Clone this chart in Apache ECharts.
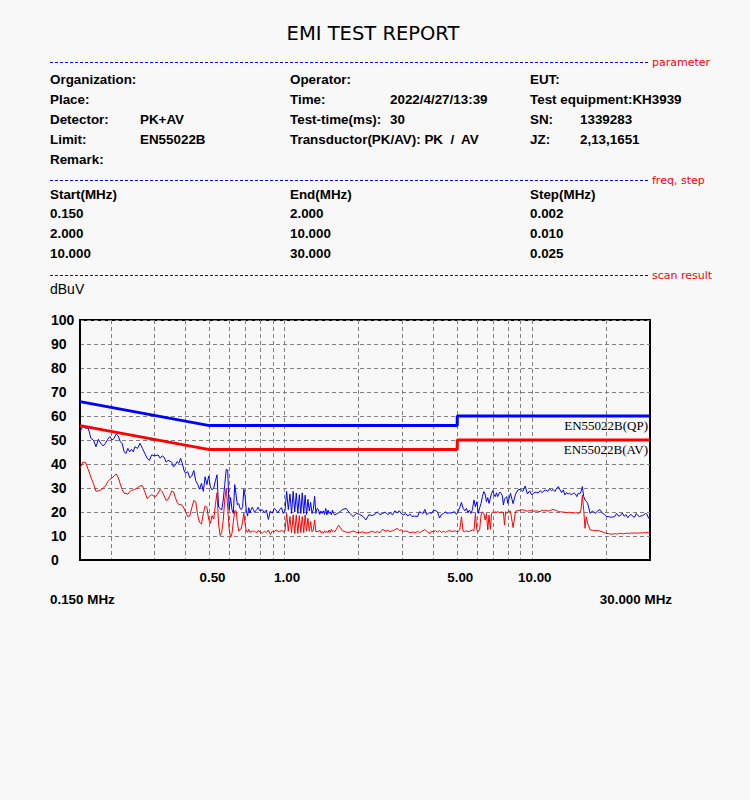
<!DOCTYPE html>
<html><head><meta charset="utf-8">
<script src="https://cdn.jsdelivr.net/npm/echarts@6/dist/echarts.min.js"></script>
<style>html,body{margin:0;padding:0;background:#f8f8f8}#c{width:750px;height:800px}</style>
</head><body><div id="c"></div>
<script>
// ---------- data ----------
const freqMHz = [
0.150,0.154,0.158,0.162,0.166,0.170,0.174,0.178,0.182,0.186,0.190,0.194,0.198,0.202,0.206,0.210,0.214,0.218,0.222,0.226,0.230,0.234,0.238,0.242,0.246,
0.250,0.256,0.262,0.268,0.274,0.280,0.286,0.292,0.298,0.304,0.310,0.316,0.322,0.328,0.334,0.340,0.346,0.352,0.358,0.364,0.370,0.376,0.382,0.388,0.394,
0.400,0.408,0.416,0.424,0.432,0.440,0.448,0.456,0.464,0.472,0.480,0.488,0.496,0.504,0.512,0.520,0.528,0.536,0.544,0.552,0.560,0.568,0.576,0.584,0.592,0.600,0.608,0.616,0.624,0.632,0.640,0.648,0.656,0.664,0.672,0.680,0.688,0.696,0.704,0.712,0.720,0.728,0.736,0.744,0.752,0.760,0.768,0.776,0.784,0.792,
0.800,0.816,0.832,0.848,0.864,0.880,0.896,0.912,0.928,0.944,0.960,0.976,0.992,1.008,1.024,1.040,1.056,1.072,1.088,1.104,1.120,1.136,1.152,1.168,1.184,1.200,1.216,1.232,1.248,1.264,1.280,1.296,1.312,1.328,1.344,1.360,1.376,1.392,1.408,1.424,1.440,1.456,1.472,1.488,1.504,1.520,1.536,1.552,1.568,1.584,
1.60,1.66,1.72,1.78,1.84,1.90,1.96,2.02,2.08,2.14,2.20,2.26,2.32,2.38,2.44,2.50,2.56,2.62,2.68,2.74,2.80,2.86,2.92,2.98,3.04,3.10,3.16,3.22,3.28,3.34,3.40,3.46,3.52,3.58,3.64,3.70,3.76,3.82,3.88,3.94,
4.00,4.08,4.16,4.24,4.32,4.40,4.48,4.56,4.64,4.72,4.80,4.88,4.96,5.04,5.12,5.20,5.28,5.36,5.44,5.52,5.60,5.68,5.76,5.84,5.92,6.00,6.08,6.16,6.24,6.32,6.40,6.48,6.56,6.64,6.72,6.80,6.88,6.96,7.04,7.12,7.20,7.28,7.36,7.44,7.52,7.60,7.68,7.76,7.84,7.92,
8.0,8.2,8.4,8.6,8.8,9.0,9.2,9.4,9.6,9.8,10.0,10.2,10.4,10.6,10.8,11.0,11.2,11.4,11.6,11.8,12.0,12.2,12.4,12.6,12.8,13.0,13.2,13.4,13.6,13.8,14.0,14.2,14.4,14.6,14.8,15.0,15.2,15.4,15.6,15.8,
16.0,16.2,16.4,16.6,16.8,17.2,17.6,18.0,18.4,18.8,19.2,19.6,20.0,20.4,20.8,21.2,21.6,22.0,22.4,22.8,23.2,23.6,24.0,24.4,24.8,25.2,25.6,26.0,26.4,26.8,27.2,27.6,28.0,28.4,28.8,29.2,29.6,30.0
];
const peakDbuv = [
53.5,55.6,54.9,55.0,50.7,50.0,47.2,50.3,48.6,47.5,48.6,50.3,51.4,50.0,50.7,52.5,51.7,49.3,48.6,45.1,44.4,46.5,45.1,46.1,45.1,
47.2,46.5,48.6,46.5,44.4,42.4,41.5,43.8,43.5,43.5,43.8,42.4,43.4,42.8,40.8,41.5,41.2,40.7,38.8,39.6,41.0,40.3,42.4,40.3,37.5,
36.1,36.8,34.2,35.0,37.3,33.0,31.5,29.5,32.0,28.6,34.7,31.4,35.0,30.4,29.2,30.0,33.0,35.5,22.0,21.5,20.8,25.0,31.4,37.8,37.5,21.0,26.0,21.0,19.4,31.4,27.0,23.0,23.5,21.5,21.0,22.2,29.5,26.5,20.5,18.3,21.8,19.6,21.0,22.0,21.0,19.8,20.5,21.0,22.0,21.2,
20.4,21.0,19.8,20.8,16.9,20.4,19.5,21.5,20.8,19.6,21.0,21.8,19.4,20.4,28.6,21.0,27.5,19.4,28.6,20.0,27.9,19.4,27.2,19.4,28.0,19.4,27.0,19.0,25.3,20.4,24.0,19.4,21.0,26.5,19.4,21.5,21.0,19.0,20.4,19.4,20.5,19.0,21.5,18.8,20.8,19.4,20.1,18.8,20.8,19.4,
18.8,19.7,21.0,21.5,19.5,18.1,19.4,19.0,18.2,16.7,18.9,18.5,19.0,20.0,18.9,19.4,20.0,18.9,19.7,18.8,20.5,19.7,20.5,19.2,18.8,19.4,18.3,19.2,18.1,18.3,18.2,18.1,20.1,19.7,19.4,21.1,18.9,19.5,19.7,19.4,
20.6,20.6,20.1,17.5,19.0,19.4,20.1,19.4,19.7,19.5,19.9,20.1,19.0,20.1,22.0,24.0,21.5,20.5,21.5,19.8,20.8,19.4,21.0,25.0,22.2,24.3,19.4,21.8,23.6,26.5,28.5,27.5,24.3,26.0,23.6,25.7,27.8,28.9,27.1,26.4,28.0,26.4,27.5,28.3,27.8,26.8,22.9,25.5,25.8,26.4,
23.6,27.8,23.5,27.5,29.2,29.5,28.6,30.8,27.5,28.8,27.1,28.0,28.3,27.9,28.9,28.1,28.8,29.2,28.6,29.7,28.9,29.4,28.5,29.9,30.6,29.2,28.1,29.2,27.1,28.1,27.5,27.8,27.3,27.5,28.0,27.5,26.4,27.8,27.5,28.5,
30.6,26.4,25.0,24.5,23.6,19.4,20.5,19.4,20.3,21.0,19.7,19.0,18.1,18.1,17.8,17.9,18.1,19.4,18.3,18.5,19.6,18.2,18.9,17.6,18.6,19.0,18.1,17.8,19.4,18.5,18.1,18.4,18.5,18.9,19.4,19.0,17.4,18.1
];
const avgDbuv = [
38.2,40.8,40.6,37.7,34.5,31.8,28.6,28.8,29.2,30.0,30.8,32.6,33.6,34.1,35.1,35.8,34.4,31.7,29.3,27.8,27.8,27.4,28.5,29.0,29.2,
29.5,30.1,30.9,31.0,28.4,25.6,26.5,27.2,26.6,26.5,27.9,29.4,28.5,26.7,24.8,25.3,26.9,28.7,28.4,26.0,24.0,23.1,23.1,22.8,21.6,
20.0,18.2,18.3,21.8,24.8,24.2,18.5,15.6,15.0,19.4,22.5,22.0,17.0,15.2,18.5,17.0,23.0,28.0,15.0,10.2,11.5,16.5,25.0,29.9,22.0,13.0,9.5,11.0,16.0,20.5,20.5,15.5,12.0,12.8,13.0,16.0,19.5,15.0,12.0,11.6,12.8,11.5,11.8,12.2,11.7,12.0,11.6,11.4,12.2,12.0,
11.7,11.1,12.0,11.4,12.5,10.6,12.0,11.7,12.5,12.0,11.7,12.5,11.7,12.0,19.4,12.0,18.1,11.4,18.8,11.0,18.8,11.1,18.5,11.4,18.1,11.4,18.8,12.0,17.4,12.0,16.0,11.7,12.5,16.7,11.7,12.0,11.7,12.5,11.4,11.8,11.1,12.2,11.4,12.0,11.4,12.5,11.5,12.8,11.8,12.2,
11.6,14.5,12.2,11.6,11.5,12.1,11.5,11.5,11.7,11.2,11.5,12.0,11.5,11.8,11.4,12.8,12.0,12.4,11.8,12.2,12.6,13.2,12.3,12.6,11.9,12.1,11.8,11.4,11.6,11.6,11.4,12.0,11.4,11.8,12.2,12.7,12.0,11.5,11.1,12.0,
11.8,12.2,11.6,12.3,11.5,12.0,11.5,12.0,12.2,12.1,11.8,12.2,11.9,11.8,12.5,18.0,12.0,11.8,12.2,11.8,12.0,12.2,12.5,12.2,19.4,12.5,11.8,12.8,18.8,20.1,19.4,16.7,19.4,12.5,18.8,12.8,19.4,20.1,19.7,20.1,19.9,20.1,19.9,19.7,20.1,19.9,19.9,14.6,20.1,19.4,
20.1,20.4,13.5,20.3,20.6,20.8,20.9,20.6,20.3,20.6,20.5,20.3,20.5,20.3,20.1,20.8,20.4,20.8,20.3,20.6,20.8,21.1,20.8,20.6,20.1,20.1,20.0,20.0,19.9,19.7,19.8,19.9,19.7,19.7,19.7,19.6,19.7,19.4,19.6,21.0,
27.0,20.8,13.2,18.0,15.3,12.5,12.4,12.2,12.3,12.1,11.8,11.4,11.1,11.0,10.8,10.8,11.0,10.8,11.0,11.1,10.9,11.0,11.1,11.2,11.0,11.3,11.1,11.4,11.1,11.3,11.2,11.4,11.2,11.5,11.3,11.5,11.4,11.4
];
const qpLimitFreq = [0.15, 0.5, 5, 5, 30];
const qpLimitDbuv = [66, 56, 56, 60, 60];
const avLimitFreq = [0.15, 0.5, 5, 5, 30];
const avLimitDbuv = [56, 46, 46, 50, 50];
const xLabelFreqs = [0.5, 1, 5, 10];
const xGridFreqs = [0.2,0.3,0.4,0.5,0.6,0.7,0.8,0.9,1,2,3,4,5,6,7,8,9,10,20];
const freqMin = 0.15, freqMax = 30;

const reportTitle = 'EMI TEST REPORT';
const sectionNames = ['parameter', 'freq, step', 'scan result'];
const infoRows = [
  ['Organization:', '', 'Operator:', '', 'EUT:', ''],
  ['Place:', '', 'Time:', '2022/4/27/13:39', 'Test equipment:KH3939', ''],
  ['Detector:', 'PK+AV', 'Test-time(ms):', '30', 'SN:', '1339283'],
  ['Limit:', 'EN55022B', 'Transductor(PK/AV): PK  /  AV', '', 'JZ:', '2,13,1651'],
  ['Remark:', '', '', '', '', '']
];
const freqRows = [
  ['Start(MHz)', 'End(MHz)', 'Step(MHz)'],
  ['0.150', '2.000', '0.002'],
  ['2.000', '10.000', '0.010'],
  ['10.000', '30.000', '0.025']
];
const unitLabel = 'dBuV';
const rangeLabels = ['0.150 MHz', '30.000 MHz'];

// ---------- layout / style ----------
const BOLD = 'bold 13.4px "Liberation Sans", Arial, sans-serif';
const SANS = '"Liberation Sans", Arial, sans-serif';
const graphics = [];
graphics.push({type:'text', x:373, y:33, style:{text:reportTitle, font:'19.5px "DejaVu Sans", Verdana, sans-serif', fill:'#000', align:'center', verticalAlign:'middle'}});
const sectionY = [62.5, 180.5, 275.5];
sectionY.forEach((y, i) => {
  graphics.push({type:'line', shape:{x1:50, y1:y, x2:648, y2:y}, style:{stroke:'#0000ff', lineWidth:1, lineDash:[3,2]}});
  graphics.push({type:'text', x:652, y:y, style:{text:sectionNames[i], font:'11px "DejaVu Sans", sans-serif', fill:'#ff0000', align:'left', verticalAlign:'middle'}});
});
const infoColX = [50, 140, 290, 390, 530, 580];
infoRows.forEach((row, r) => {
  row.forEach((t, c) => {
    if (!t) return;
    graphics.push({type:'text', x:infoColX[c], y:79 + r * 20, style:{text:t, font:BOLD, fill:'#000', align:'left', verticalAlign:'middle'}});
  });
});
const freqColX = [50, 290, 530];
const freqRowY = [194, 213.5, 233.5, 253.5];
freqRows.forEach((row, r) => {
  row.forEach((t, c) => {
    graphics.push({type:'text', x:freqColX[c], y:freqRowY[r], style:{text:t, font:BOLD, fill:'#000', align:'left', verticalAlign:'middle'}});
  });
});
graphics.push({type:'text', x:50, y:289, style:{text:unitLabel, font:'14px "Liberation Sans", Arial, sans-serif', fill:'#000', align:'left', verticalAlign:'middle'}});
graphics.push({type:'text', x:50, y:599, style:{text:rangeLabels[0], font:BOLD, fill:'#000', align:'left', verticalAlign:'middle'}});
graphics.push({type:'text', x:672, y:599, style:{text:rangeLabels[1], font:BOLD, fill:'#000', align:'right', verticalAlign:'middle'}});

const pair = (xs, ys) => xs.map((x, i) => [x, ys[i]]);
const limitLabel = {show:true, formatter:'{a}', align:'right', verticalAlign:'top', distance:-2, color:'#000',
  fontFamily:'"Liberation Serif", "DejaVu Serif", serif', fontSize:13, padding:[3,0,0,0]};

const chart = echarts.init(document.getElementById('c'), null, {renderer:'svg', width:750, height:800});
chart.setOption({
  backgroundColor:'#f8f8f8',
  animation:false,
  grid:{left:80, right:100, top:320, bottom:240, show:true, borderColor:'#000', borderWidth:2, backgroundColor:'transparent'},
  xAxis:[
    {type:'log', logBase:10, min:freqMin, max:freqMax, show:false},
    {type:'value', position:'bottom', min:Math.log10(freqMin), max:Math.log10(freqMax),
      axisLine:{show:true, onZero:false, lineStyle:{color:'#000', width:2}},
      axisTick:{show:false, customValues:xGridFreqs.map(Math.log10)},
      splitLine:{show:true, lineStyle:{color:'#808080', width:1, type:[4,3]}},
      axisLabel:{show:true, customValues:xLabelFreqs.map(Math.log10), formatter:v => Math.pow(10, v).toFixed(2),
        color:'#000', fontWeight:'bold', fontSize:13.4, fontFamily:SANS, margin:11, padding:[0,0,0,6]}
    }
  ],
  yAxis:{type:'value', min:0, max:100, interval:10,
    axisLine:{show:true, onZero:false, lineStyle:{color:'#000', width:2}},
    axisTick:{show:false},
    splitLine:{show:true, lineStyle:{color:'#808080', width:1, type:[4,3]}},
    axisLabel:{align:'left', margin:29, color:'#000', fontWeight:'bold', fontSize:14, fontFamily:SANS, padding:[6,0,0,0]}
  },
  series:[
    {name:'PK', type:'line', xAxisIndex:0, data:pair(freqMHz, peakDbuv), symbol:'none', lineStyle:{color:'#0000ff', width:1}, itemStyle:{color:'#0000ff'}, z:3},
    {name:'AV', type:'line', xAxisIndex:0, data:pair(freqMHz, avgDbuv), symbol:'none', lineStyle:{color:'#ff0000', width:1}, itemStyle:{color:'#ff0000'}, z:4},
    {name:'EN55022B(QP)', type:'line', xAxisIndex:0, data:pair(qpLimitFreq, qpLimitDbuv), symbol:'none', lineStyle:{color:'#0000ff', width:3}, itemStyle:{color:'#0000ff'}, endLabel:limitLabel, z:5},
    {name:'EN55022B(AV)', type:'line', xAxisIndex:0, data:pair(avLimitFreq, avLimitDbuv), symbol:'none', lineStyle:{color:'#ff0000', width:3}, itemStyle:{color:'#ff0000'}, endLabel:limitLabel, z:5}
  ],
  graphic:graphics
});
</script>
</body></html>
